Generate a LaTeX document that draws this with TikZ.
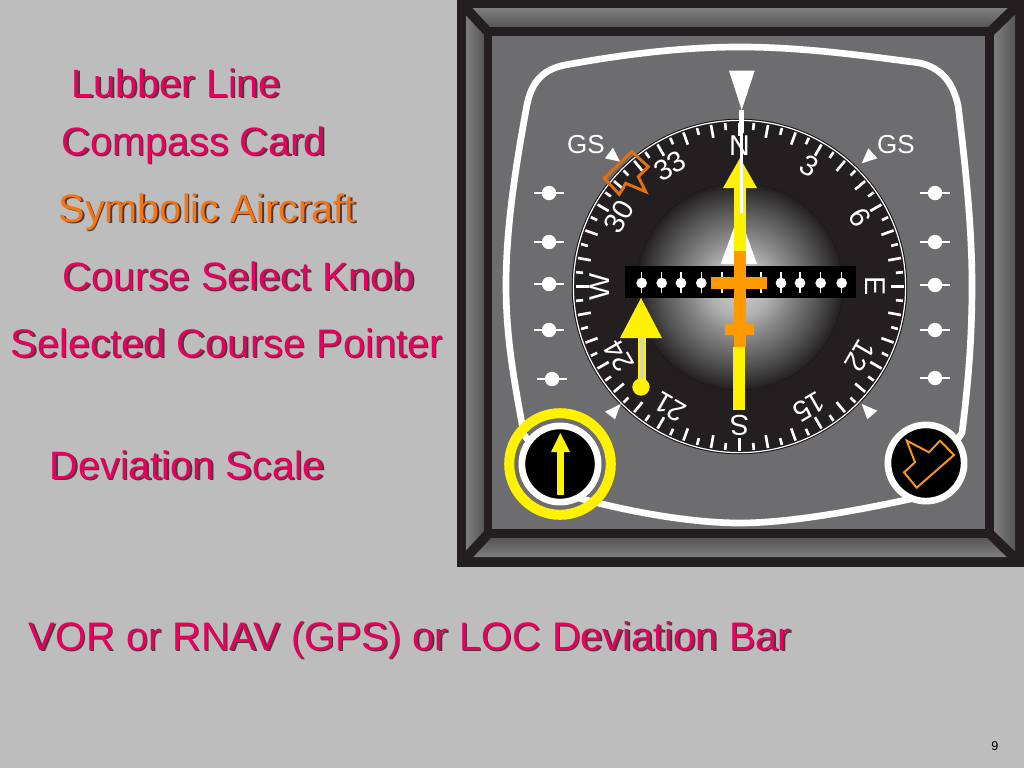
\documentclass[tikz,border=0pt]{standalone}
\usepackage{fontspec}
\setmainfont{Liberation Sans}
\definecolor{bg}{HTML}{BDBDBD}
\definecolor{pinktxt}{HTML}{E8005E}
\definecolor{orangetxt}{HTML}{F87410}
\definecolor{txtshadow}{HTML}{4A3A40}
\definecolor{frame}{HTML}{231F20}
\definecolor{panel}{HTML}{6D6C6E}
\definecolor{ptryellow}{HTML}{FFF200}
\definecolor{acorange}{HTML}{F7941D}
\definecolor{barorange}{HTML}{FF9900}
\definecolor{acline}{HTML}{E07010}
\definecolor{bevA}{HTML}{565657}
\definecolor{bevB}{HTML}{7E7E7F}
\definecolor{glowA}{HTML}{D0D0D0}
\definecolor{glowB}{HTML}{B0B0B0}
\definecolor{glowC}{HTML}{888888}
\definecolor{glowD}{HTML}{505050}
\pgfdeclareradialshading{glow}{\pgfpoint{0bp}{0bp}}{color(0bp)=(glowA); color(7.3bp)=(glowB); color(12bp)=(glowC); color(19.4bp)=(glowD); color(25bp)=(frame); color(50bp)=(frame)}
\newcommand{\shadowtxt}[1]{\rlap{\kern1.1pt\raisebox{-1.1pt}{\textcolor{txtshadow}{#1}}}#1}
\newcommand{\px}[1]{\fontsize{#1pt}{#1pt}\selectfont}
\tikzset{
  x=0.75pt,y=-0.75pt,
  label text/.style={anchor=base west,inner sep=0pt,text=pinktxt,font=\px{29.7}},
  card text/.style={text=white,inner sep=0pt,font=\px{21.5}},
  gs text/.style={text=white,inner sep=0pt,font=\px{19.5}},
  white tri/.style={fill=white,draw=none},
  dev line/.style={draw=white,line width=1.9pt},
}
\begin{document}
\begin{tikzpicture}
\useasboundingbox (0,0) rectangle (1024,768);
\fill[bg] (0,0) rectangle (1024,768);
% frame
\fill[frame] (457,0) rectangle (1024,567);
\shade[top color=bevB,bottom color=bevA] (466,8) -- (1015,8) -- (994,27) -- (484,27) -- cycle;
\shade[top color=bevA,bottom color=bevB] (466,557) -- (1015,557) -- (994,538) -- (484,538) -- cycle;
\shade[left color=bevB,right color=bevA] (466,8) -- (484,27) -- (484,538) -- (466,557) -- cycle;
\shade[left color=bevB,right color=bevA] (1015,8) -- (994,27) -- (994,538) -- (1015,557) -- cycle;
\fill[frame] (484,27) rectangle (994,538);
\fill[panel] (492,36) rectangle (985,529);
\draw[frame,line width=7.2pt] (462,4) -- (488,32);
\draw[frame,line width=7.2pt] (1019,4) -- (990,32);
\draw[frame,line width=7.2pt] (462,562) -- (488,534);
\draw[frame,line width=7.2pt] (1019,562) -- (990,534);
% bezel
\draw[white,line width=5pt,line join=round]
 (740,47) .. controls (680,47) and (620,55) .. (565,65)
 .. controls (540,70) and (530,85) .. (526,110)
 .. controls (515,170) and (506,230) .. (506,285)
 .. controls (506,340) and (515,385) .. (524,435)
 -- (575,497)
 .. controls (640,515) and (700,523) .. (740,523)
 .. controls (790,523) and (860,510) .. (915,498)
 -- (962,433)
 .. controls (968,385) and (972,340) .. (972,285)
 .. controls (972,230) and (966,170) .. (958,105)
 .. controls (952,80) and (940,68) .. (920,63)
 .. controls (860,55) and (800,47) .. (740,47) -- cycle;
% deviation side marks
\foreach \mx/\my in {549/193,549/242,549/284,549/330,552/379,935/193,935/242,935/285,935/330,935/378}{
  \draw[dev line] (\mx-15,\my) -- (\mx+15,\my);
  \fill[white] (\mx,\my) circle[radius=5.4pt];
}
% compass card
\fill[frame!60!black] (739.5,286.5) circle[radius=125.8pt];
\fill[frame,draw=white,line width=0.9pt] (739.5,286.5) circle[radius=124.6pt];
\foreach \a in {0,5,...,355}{
  \pgfmathsetmacro{\len}{mod(\a,10)==0 ? 13 : 7}
  \draw[white,line width=2pt] ({739.5+164*sin(\a)},{286.5-164*cos(\a)}) -- ({739.5+(164-\len)*sin(\a)},{286.5-(164-\len)*cos(\a)});
}
\fill[shading=glow] (739.5,286.5) circle[radius=77.5pt];
% card numbers
\foreach \a/\t/\r in {0/N/141,30/3/139,60/6/139,90/E/136,120/12/139,150/15/139,180/S/139,210/21/139,240/24/139,270/W/140,300/30/139,330/33/139}{
  \node[card text,rotate=-\a] (card\a) at ({739.5+\r*sin(\a)},{286.5-\r*cos(\a)}) {\t};
}
% GS
\node[gs text] (gsl) at (586,145) {GS};
\node[gs text] (gsr) at (896,145) {GS};
\fill[white tri] (613,147.7) -- (620,161.7) -- (605,158.3) -- cycle;
\fill[white tri] (868.3,148.3) -- (877.3,158.3) -- (861.7,163.3) -- cycle;
\fill[white tri] (605,411.7) -- (620.7,404) -- (615,419.3) -- cycle;
\fill[white tri] (861.7,404) -- (877.3,410.7) -- (867.3,419.3) -- cycle;
% white reciprocal triangle
\fill[white] (720.7,264) -- (757,264) -- (739,214) -- cycle;
% deviation bar scale
\fill[black] (625,266) rectangle (856,298);
\foreach \dx in {641.7,661.7,681,701.3,722,761,781,800,820.7,841.7}{
  \draw[white,line width=1.1pt] (\dx,272) -- (\dx,293);
  \fill[white] (\dx,283) circle[radius=4pt];
}
% course pointer yellow
\fill[ptryellow] (733,347) rectangle (745,410);
\fill[ptryellow] (734,188) rectangle (746,255);
\fill[ptryellow] (740,158) -- (757,188) -- (723,188) -- cycle;
% orange deviation bar
\fill[barorange] (734,251) rectangle (746,347);
\fill[barorange] (711,277) rectangle (767,289);
\fill[barorange] (725,324) rectangle (754,335);
% lubber
\fill[white] (729,70.7) -- (754.7,70.7) -- (741.7,110) -- cycle;
\fill[white] (738.5,110) rectangle (744,133);
\fill[white] (740,133) rectangle (743,213);
% selected course pointer
\fill[white!80!ptryellow!85!black] (637.5,336) rectangle (646,382);
\fill[ptryellow] (637.5,336) rectangle (639.5,382);
\fill[ptryellow] (644,336) rectangle (646,382);
\fill[ptryellow] (641,298) -- (662,338) -- (620,338) -- cycle;
\fill[ptryellow] (641,387) circle[radius=6.5pt];
% small aircraft
\draw[acline,line width=2.2pt,line join=miter] (631.7,151.7) -- (648.3,166.7) -- (638.3,176.7) -- (645.7,191.7) -- (625.7,183.3) -- (619.3,194.3) -- (604.3,178.3) -- cycle;
% left knob
\fill[black,draw=white,line width=5pt] (560,464) circle[radius=28.6pt];
\fill[ptryellow] (557,495) rectangle (563.5,450);
\fill[ptryellow] (560.3,433) -- (570,452) -- (551,452) -- cycle;
\draw[ptryellow,line width=7.5pt] (560,464) circle[radius=38.1pt];
% right knob
\fill[black,draw=white,line width=5pt] (926,463) circle[radius=28.6pt];
\draw[acorange,line width=1.5pt,line join=miter] (906.7,440.7) -- (929,452.3) -- (940,440.7) -- (954,455) -- (916.7,487.7) -- (904,472.3) -- (915,462.3) -- cycle;
% labels
\node[label text] (lubber) at (71.5,97) {\shadowtxt{Lubber Line}};
\node[label text] (card) at (61.5,155) {\shadowtxt{Compass Card}};
\node[label text,text=orangetxt] (aircraft) at (58.5,222) {\shadowtxt{Symbolic Aircraft}};
\node[label text] (knob) at (62.5,290) {\shadowtxt{Course Select Knob}};
\node[label text,font=\px{29.9}] (pointer) at (10.5,357) {\shadowtxt{Selected Course Pointer}};
\node[label text] (scale) at (49.5,479) {\shadowtxt{Deviation Scale}};
\node[label text,font=\px{29.85}] (bar) at (28.5,650) {\shadowtxt{VOR or RNAV (GPS) or LOC Deviation Bar}};
\node[anchor=base,inner sep=0pt,font=\px{9.5}] (page) at (995,750) {9};
\end{tikzpicture}
\end{document}
